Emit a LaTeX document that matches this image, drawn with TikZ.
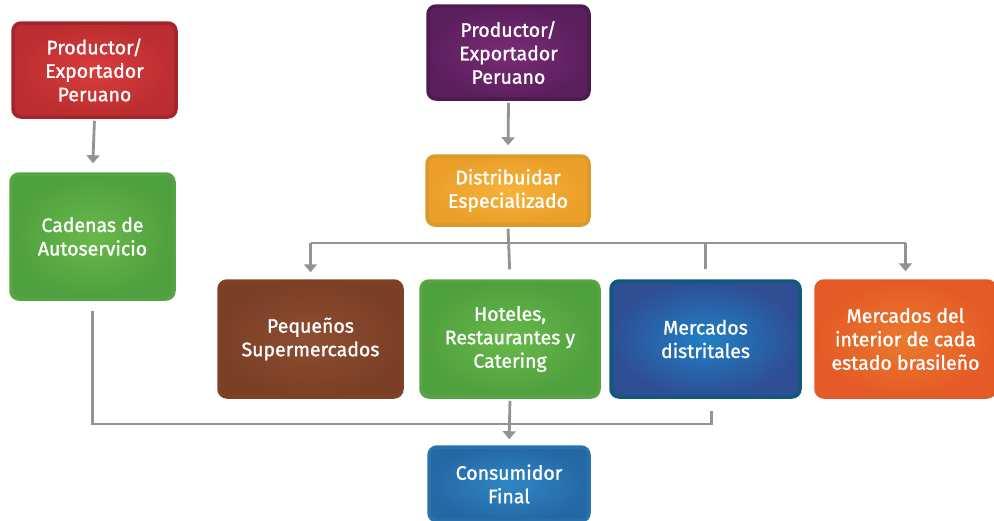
\documentclass[tikz,border=0pt]{standalone}
\usepackage{fontspec}
\setmainfont{Fira Sans}
\newfontfamily\boxfont{Fira Sans}[FakeBold=1.3]
\usetikzlibrary{arrows.meta}
\definecolor{conncol}{HTML}{939393}
\definecolor{redB}{HTML}{A3242A}\definecolor{redI}{HTML}{D93D3B}\definecolor{redO}{HTML}{BB2D30}
\definecolor{grnB}{HTML}{56A443}\definecolor{grnI}{HTML}{68B84A}\definecolor{grnO}{HTML}{4FA03E}
\definecolor{purB}{HTML}{4D1A52}\definecolor{purI}{HTML}{7A2B74}\definecolor{purO}{HTML}{5C1F5E}
\definecolor{oraB}{HTML}{D79A2B}\definecolor{oraI}{HTML}{F5B33A}\definecolor{oraO}{HTML}{EB9E2A}
\definecolor{broB}{HTML}{7E4126}\definecolor{broI}{HTML}{8E4E32}\definecolor{broO}{HTML}{7B3F25}
\definecolor{bluB}{HTML}{0F5A78}\definecolor{bluI}{HTML}{1F80C6}\definecolor{bluO}{HTML}{2F4E94}
\definecolor{orrB}{HTML}{E25A27}\definecolor{orrI}{HTML}{EA7A2E}\definecolor{orrO}{HTML}{E55A26}
\definecolor{conB}{HTML}{2A72AC}\definecolor{conI}{HTML}{2F86C4}\definecolor{conO}{HTML}{2568A6}
\tikzset{
  box/.style={rounded corners=8pt, line width=3.5pt, text=white, align=center,
    font=\boxfont\fontsize{19.5}{23.5}\selectfont, inner sep=0pt, shading=radial},
  conn/.style={draw=conncol, line width=2.8pt},
  arr/.style={conn, -{Triangle[width=13pt,length=8pt]}},
}
\begin{document}
\begin{tikzpicture}[x=1pt,y=-1pt]
\useasboundingbox (0,0) rectangle (994,520);
% boxes
\node[box, draw=redB, inner color=redI, outer color=redO,
  minimum width=163pt, minimum height=94pt] (red) at (94.5,70) {Productor/\\Exportador\\Peruano};
\node[box, draw=grnB, inner color=grnI, outer color=grnO,
  minimum width=163pt, minimum height=125pt] (cad) at (92.5,236.5) {Cadenas de\\Autoservicio};
\node[box, draw=purB, inner color=purI, outer color=purO,
  minimum width=161pt, minimum height=93pt] (pur) at (508.5,52.5) {Productor/\\Exportador\\Peruano};
\node[box, draw=oraB, inner color=oraI, outer color=oraO,
  minimum width=162pt, minimum height=69pt] (ora) at (508,190.5) {Distribuidar\\Especializado};
\node[box, draw=broB, inner color=broI, outer color=broO,
  minimum width=183pt, minimum height=116pt] (bro) at (310.5,339) {Pequeños\\Supermercados};
\node[box, draw=grnB, inner color=grnI, outer color=grnO,
  minimum width=178pt, minimum height=116pt] (hot) at (510,339) {Hoteles,\\Restaurantes y\\Catering};
\node[box, draw=bluB, inner color=bluI, outer color=bluO,
  minimum width=189pt, minimum height=116pt] (blu) at (705.5,339) {Mercados\\distritales};
\node[box, draw=orrB, inner color=orrI, outer color=orrO,
  minimum width=179pt, minimum height=116pt] (orr) at (905.5,339) {Mercados del\\interior de cada\\estado brasileño};
\node[box, draw=conB, inner color=conI, outer color=conO,
  minimum width=160pt, minimum height=74pt] (con) at (509,484) {Consumidor\\Final};
% bus coordinates
\coordinate (bus) at (0,243);
\coordinate (bus2) at (0,424);
% connectors
\draw[arr, shorten <=2pt, shorten >=9pt] (red.south) -- (cad.north);
\draw[arr, shorten <=2pt, shorten >=9pt] (pur.south) -- (ora.north);
\draw[conn, shorten <=2pt, shorten >=10pt] (ora.south) -- (hot.north);
\draw[conn] (bro.north |- bus) -- (orr.north |- bus);
\draw[arr, shorten >=7pt] (bro.north |- bus) -- (bro.north);
\draw[arr, shorten >=8pt] (orr.north |- bus) -- (orr.north);
\draw[conn, shorten >=10pt] (blu.north |- bus) -- (blu.north);
\draw[conn, shorten <=10pt] (cad.south) |- ([xshift=6pt]blu.south |- bus2) -- ([xshift=6pt,yshift=-12pt]blu.south);
\draw[arr, shorten <=2pt, shorten >=6pt] (hot.south) -- (con.north);
\end{tikzpicture}
\end{document}
